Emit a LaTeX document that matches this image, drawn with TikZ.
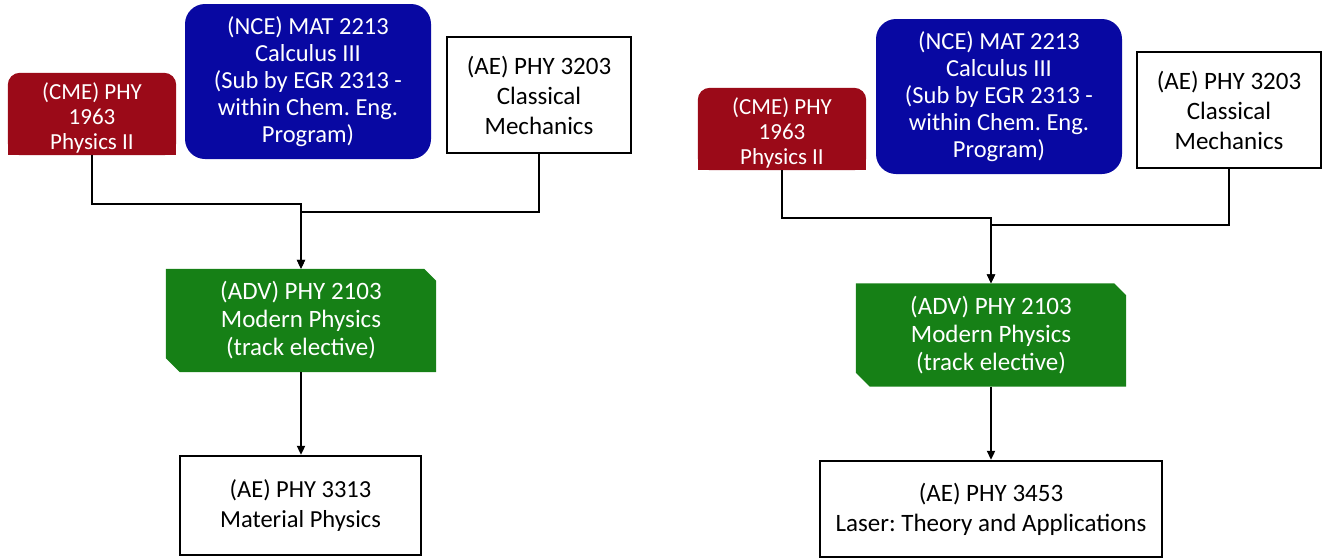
\documentclass[tikz,border=0pt]{standalone}
\usepackage{fontspec}
\setmainfont{Carlito}
\frenchspacing
\usetikzlibrary{arrows.meta,backgrounds,calc}

\definecolor{cmered}{RGB}{155,10,24}
\definecolor{nceblue}{RGB}{8,8,162}
\definecolor{advgreen}{RGB}{22,128,22}

\tikzset{
  whitebox/.style={draw=black, line width=2.4pt, fill=white, inner sep=0pt,
    align=center, text=black, font=\fontsize{25}{30}\selectfont},
  redbox/.style={inner sep=0pt, minimum width=168pt, minimum height=82pt},
  redtext/.style={inner sep=0pt, align=center, text=white, yshift=-3.5pt,
    font=\fontsize{23}{25}\selectfont},
  bluebox/.style={fill=nceblue, rounded corners=20pt, inner sep=0pt,
    align=center, text=white, font=\fontsize{24.5}{27}\selectfont},
  greenbox/.style={inner sep=0pt, align=center, text=white,
    font=\fontsize{25}{28}\selectfont},
  conn/.style={line width=2pt, draw=black,
    -{Triangle[length=9pt,width=8pt]}},
}

\begin{document}
\begin{tikzpicture}[x=1pt, y=-1pt]
\useasboundingbox (0,0) rectangle (1325,558);

% ---------- left chain ----------
\node[redbox, label={[redtext]center:{(CME) PHY\\1963\\Physics II}}]
  (cme1) at (92,114) {};
\node[bluebox, minimum width=246pt, minimum height=155pt] (nce1) at (308,81.5)
  {(NCE) MAT 2213\\Calculus III\\(Sub by EGR 2313 -\\within Chem. Eng.\\Program)};
\node[whitebox, minimum width=184pt, minimum height=116pt] (ae1) at (539,95)
  {(AE) PHY 3203\\Classical\\Mechanics};
\node[greenbox, minimum width=270pt, minimum height=103pt] (adv1) at (301,320.5)
  {(ADV) PHY 2103\\Modern Physics\\(track elective)};
\node[whitebox, font=\fontsize{24.5}{30}\selectfont,
      minimum width=241pt, minimum height=99pt] (mat) at (300.5,505.5)
  {(AE) PHY 3313\\Material Physics};

% ---------- right chain ----------
\node[redbox, label={[redtext]center:{(CME) PHY\\1963\\Physics II}}]
  (cme2) at (782,129) {};
\node[bluebox, minimum width=246pt, minimum height=155pt] (nce2) at (999,96.5)
  {(NCE) MAT 2213\\Calculus III\\(Sub by EGR 2313 -\\within Chem. Eng.\\Program)};
\node[whitebox, minimum width=184pt, minimum height=116pt] (ae2) at (1229,110)
  {(AE) PHY 3203\\Classical\\Mechanics};
\node[greenbox, minimum width=270pt, minimum height=103pt] (adv2) at (991,335)
  {(ADV) PHY 2103\\Modern Physics\\(track elective)};
\node[whitebox, minimum width=342pt, minimum height=96pt] (laser) at (991,509)
  {(AE) PHY 3453\\Laser: Theory and Applications};

% ---------- shaped fills behind the text ----------
\begin{pgfonlayer}{background}
  \foreach \n in {cme1,cme2}{
    \fill[cmered, rounded corners=12pt] (\n.north west) rectangle (\n.south east);
    \fill[cmered] (\n.west) rectangle (\n.south east);
  }
  \foreach \n in {adv1,adv2}{
    \fill[advgreen] ($(\n.south west)+(0,-14)$) -- (\n.north west)
      -- ($(\n.north east)+(-12,0)$) -- ($(\n.north east)+(0,12)$)
      -- (\n.south east) -- ($(\n.south west)+(14,0)$) -- cycle;
  }
\end{pgfonlayer}

% ---------- connectors ----------
\draw[conn] (cme1.south) |- ([yshift=65pt]adv1.north) -- (adv1.north);
\draw[conn] (ae1.south) |- ([yshift=57pt]adv1.north) -- (adv1.north);
\draw[conn] (adv1.south) -- (adv1.south |- mat.north);

\draw[conn] (cme2.south) |- ([yshift=65pt]adv2.north) -- (adv2.north);
\draw[conn] (ae2.south) |- ([yshift=58pt]adv2.north) -- (adv2.north);
\draw[conn] (adv2.south) -- (adv2.south |- laser.north);
\end{tikzpicture}
\end{document}
